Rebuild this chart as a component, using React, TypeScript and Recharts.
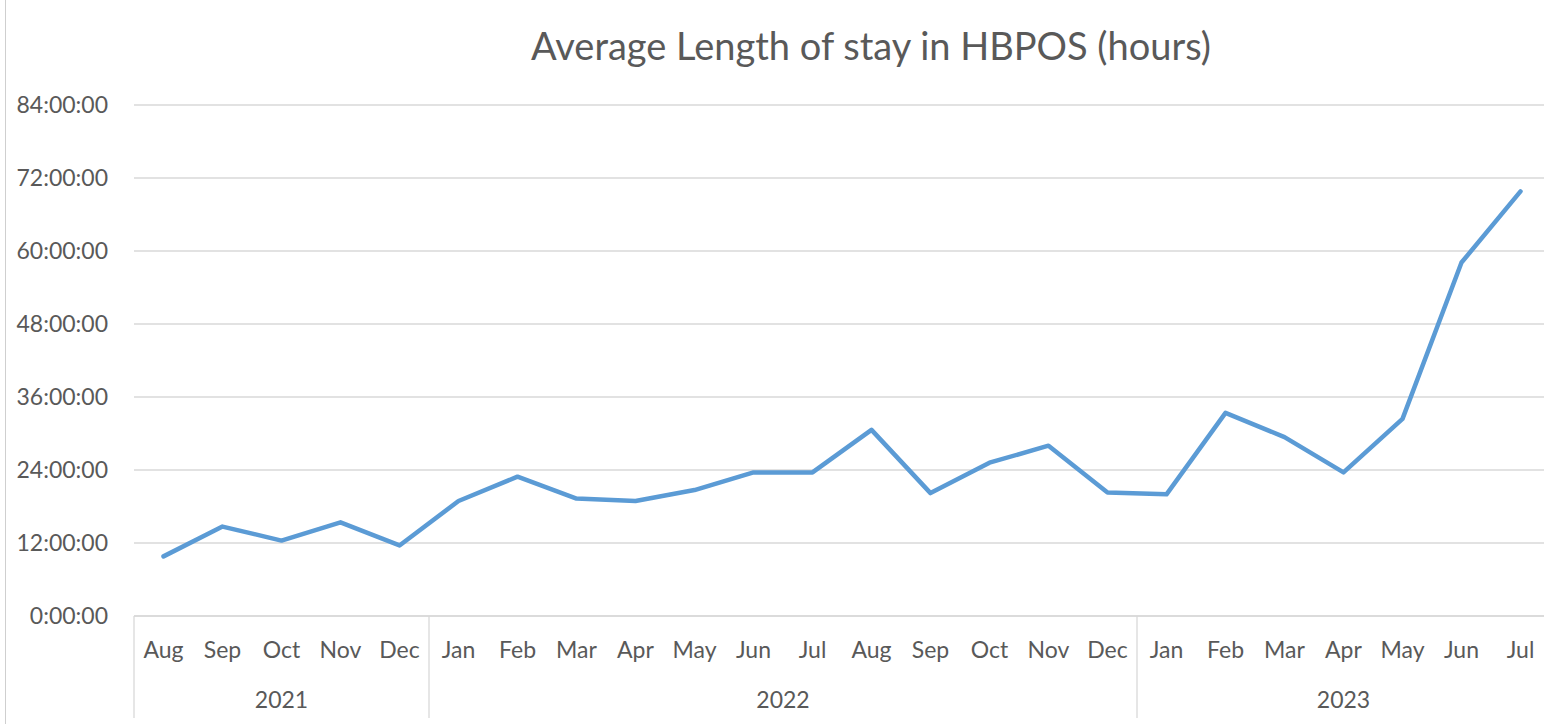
import React from "react";
import { LineChart, Line, XAxis, YAxis, CartesianGrid } from "recharts";

// Monthly average length of stay, in hours
const months = [
  "Aug", "Sep", "Oct", "Nov", "Dec",
  "Jan", "Feb", "Mar", "Apr", "May", "Jun", "Jul", "Aug", "Sep", "Oct", "Nov", "Dec",
  "Jan", "Feb", "Mar", "Apr", "May", "Jun", "Jul",
];
const years = [
  "2021", "2021", "2021", "2021", "2021",
  "2022", "2022", "2022", "2022", "2022", "2022", "2022", "2022", "2022", "2022", "2022", "2022",
  "2023", "2023", "2023", "2023", "2023", "2023", "2023",
];
const avgHours = [
  9.8, 14.7, 12.4, 15.4, 11.6,
  18.9, 22.9, 19.3, 18.9, 20.7, 23.6, 23.6, 30.6, 20.2, 25.2, 28.0, 20.3,
  20.0, 33.4, 29.4, 23.6, 32.4, 58.1, 69.8,
];
const yTicks = [0, 12, 24, 36, 48, 60, 72, 84];

const data = months.map((m, i) => ({ key: `${years[i]}-${i}`, month: m, year: years[i], hours: avgHours[i] }));

const TEXT = "#595959";
const GRID = "#d9d9d9";
const FONT = "Lato, 'Open Sans', sans-serif";
const TICK_SIZE = 23;

const fmtHours = (v: number) => `${v}:00:00`;

// Two-level category tick: month label, plus year separators and year labels
const CategoryTick = (props: any) => {
  const { x, y, index, payload } = props;
  const half = payload?.offset ?? 0;
  const isGroupStart = index === 0 || years[index] !== years[index - 1];
  let groupLen = 0;
  if (isGroupStart) {
    let j = index;
    while (j < years.length && years[j] === years[index]) {
      groupLen++;
      j++;
    }
  }
  const left = x - half;
  return (
    <g>
      <text x={x} y={y + 42} textAnchor="middle" fill={TEXT} fontSize={TICK_SIZE} fontFamily={FONT}>
        {months[index]}
      </text>
      {isGroupStart && (
        <>
          <line x1={left} y1={y} x2={left} y2={y + 102} stroke={GRID} strokeWidth={1.3} />
          <text
            x={left + groupLen * half}
            y={y + 92}
            textAnchor="middle"
            fill={TEXT}
            fontSize={TICK_SIZE}
            fontFamily={FONT}
          >
            {years[index]}
          </text>
        </>
      )}
    </g>
  );
};

export default function App() {
  return (
    <div
      style={{
        position: "absolute",
        left: 0,
        top: 0,
        width: 1544,
        height: 724,
        background: "#fff",
        overflow: "hidden",
      }}
    >
      <div
        style={{
          position: "absolute",
          left: 0,
          width: 1544,
          top: 20,
          paddingLeft: 198,
          boxSizing: "border-box",
          textAlign: "center",
          fontFamily: FONT,
          fontSize: 38,
          color: TEXT,
          lineHeight: "50px",
        }}
      >
        Average Length of stay in HBPOS (hours)
      </div>
      <LineChart
        width={1550}
        height={724}
        data={data}
        margin={{ top: 105, right: 0, bottom: 8, left: 0 }}
      >
        <CartesianGrid horizontal vertical={false} stroke={GRID} strokeWidth={1.3} />
        <XAxis
          dataKey="key"
          scale="band"
          interval={0}
          height={100}
          tickLine={false}
          tickSize={0}
          tickMargin={0}
          axisLine={{ stroke: GRID, strokeWidth: 1.3 }}
          tick={<CategoryTick />}
        />
        <YAxis
          width={134}
          domain={[0, 84]}
          ticks={yTicks}
          interval={0}
          axisLine={false}
          tickLine={false}
          tickMargin={20}
          tickFormatter={fmtHours}
          tick={{ fill: TEXT, fontSize: TICK_SIZE, fontFamily: FONT }}
        />
        <Line
          type="linear"
          dataKey="hours"
          stroke="#5b9bd5"
          strokeWidth={4.5}
          strokeLinejoin="round"
          strokeLinecap="round"
          dot={false}
          activeDot={false}
          isAnimationActive={false}
        />
      </LineChart>
      <div style={{ position: "absolute", left: 5, top: 0, width: 1, height: 724, background: "#cfcfcf" }} />
    </div>
  );
}
